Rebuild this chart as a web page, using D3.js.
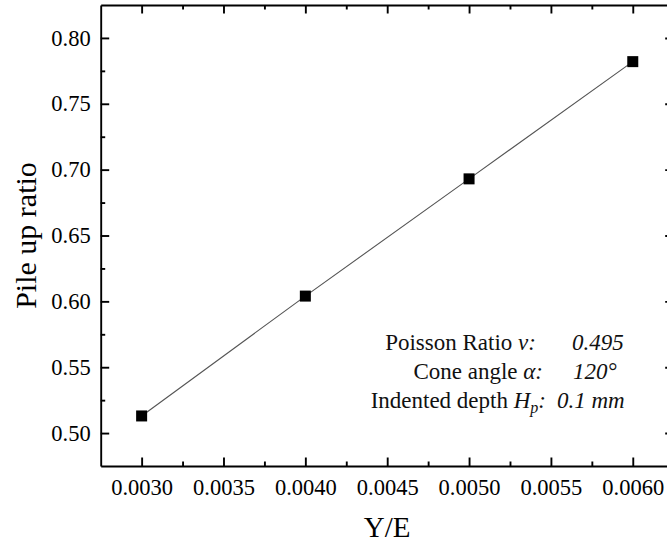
<!DOCTYPE html>
<html>
<head>
<meta charset="utf-8">
<script src="https://cdn.jsdelivr.net/npm/d3@7"></script>
<style>
  body { margin: 0; background: #fff; }
  svg { display: block; overflow: hidden; }
  svg text { font-family: "Liberation Serif", serif !important; }
  .axis path, .axis line { stroke: #000; stroke-width: 1.9px; }
  .minor path { display: none; }
</style>
</head>
<body>
<div class="graphContainer"></div>
<script>
// Data
var yOverE = [0.0030, 0.0040, 0.0050, 0.0060];
var pileUpRatio = [0.513, 0.604, 0.693, 0.782];

// Tick values
var xTicks = [0.0030, 0.0035, 0.0040, 0.0045, 0.0050, 0.0055, 0.0060];
var xMinorTicks = [0.00325, 0.00375, 0.00425, 0.00475, 0.00525, 0.00575];
var yTicks = [0.50, 0.55, 0.60, 0.65, 0.70, 0.75, 0.80];
var yMinorTicks = [0.525, 0.575, 0.625, 0.675, 0.725, 0.775];

var xDomain = [0.00275, 0.00625];
var yDomain = [0.475, 0.825];

(function(){

    var serif = "Liberation Serif";

    // Set the dimensions of the canvas / graph
    var margin = {top: 5, right: 0, bottom: 82, left: 100.7},
        totalWidth = 667,
        totalHeight = 548,
        width = 573,
        height = totalHeight - margin.top - margin.bottom;

    // Set the ranges
    var x = d3.scaleLinear().domain(xDomain).range([0, width]);
    var y = d3.scaleLinear().domain(yDomain).range([height, 0]);

    var svg = d3.select(".graphContainer")
        .append("svg")
            .attr("width", totalWidth)
            .attr("height", totalHeight)
        .append("g")
            .attr("transform", "translate(" + margin.left + "," + margin.top + ")");

    var fmtX = d3.format(".4f"),
        fmtY = d3.format(".2f");

    function addAxis(axis, tx, ty, minor) {
        svg.append("g")
            .attr("class", minor ? "axis minor" : "axis")
            .attr("transform", "translate(" + tx + "," + ty + ")")
            .call(axis)
            .attr("font-family", serif)
            .attr("font-size", 22.5)
            .selectAll("text").attr("fill", "#000");
    }

    // Minor ticks
    addAxis(d3.axisBottom(x).tickValues(xMinorTicks).tickSize(-4.5).tickFormat(""), 0, height, true);
    addAxis(d3.axisTop(x).tickValues(xMinorTicks).tickSize(-4.5).tickFormat(""), 0, 0, true);
    addAxis(d3.axisLeft(y).tickValues(yMinorTicks).tickSize(-4.5).tickFormat(""), 0, 0, true);
    addAxis(d3.axisRight(y).tickValues(yMinorTicks).tickSize(-4.5).tickFormat(""), width, 0, true);

    // Major axes
    addAxis(d3.axisBottom(x).tickValues(xTicks).tickSizeInner(-8.5).tickSizeOuter(0)
        .tickPadding(13).tickFormat(fmtX), 0, height);
    addAxis(d3.axisTop(x).tickValues(xTicks).tickSizeInner(-8.5).tickSizeOuter(0).tickFormat(""), 0, 0);
    addAxis(d3.axisLeft(y).tickValues(yTicks).tickSizeInner(-8.5).tickSizeOuter(0)
        .tickPadding(10).tickFormat(fmtY), 0, 0);
    addAxis(d3.axisRight(y).tickValues(yTicks).tickSizeInner(-8.5).tickSizeOuter(0).tickFormat(""), width, 0);

    // Line
    var data = yOverE.map(function(d, i) { return {x: d, y: pileUpRatio[i]}; });
    var valueline = d3.line()
        .x(function(d) { return x(d.x); })
        .y(function(d) { return y(d.y); });

    svg.append("path")
        .attr("d", valueline(data))
        .attr("fill", "none")
        .attr("stroke", "#555")
        .attr("stroke-width", 1.1);

    // Square markers
    svg.selectAll(".pt").data(data).enter().append("rect")
        .attr("class", "pt")
        .attr("x", function(d) { return x(d.x) - 5.5; })
        .attr("y", function(d) { return y(d.y) - 5.5; })
        .attr("width", 11)
        .attr("height", 11)
        .attr("fill", "#000");

    // Axis titles
    var root = d3.select("svg");
    root.append("text")
        .attr("x", margin.left + width / 2)
        .attr("y", 537)
        .attr("text-anchor", "middle")
        .attr("font-size", 29)
        .text("Y/E");

    root.append("text")
        .attr("transform", "translate(36," + (margin.top + height / 2) + ") rotate(-90)")
        .attr("text-anchor", "middle")
        .attr("font-size", 30)
        .text("Pile up ratio");

    // Annotation
    var notes = root.append("g")
        .attr("font-size", 23)
        .attr("fill", "#111");

    function label(xEnd, yBase, parts) {
        var t = notes.append("text")
            .attr("x", xEnd).attr("y", yBase).attr("text-anchor", "end");
        parts.forEach(function(p) {
            var s = t.append("tspan").text(p.t);
            if (p.i) s.attr("font-style", "italic");
            if (p.sub) s.attr("dy", 5).attr("font-size", 16);
            if (p.back) s.attr("dy", -5);
        });
    }
    function value(xStart, yBase, txt) {
        notes.append("text")
            .attr("x", xStart).attr("y", yBase)
            .attr("font-style", "italic")
            .text(txt);
    }

    label(536, 350, [{t: "Poisson Ratio "}, {t: "\u03BD", i: true}, {t: ":", i: true}]);
    value(572, 350, "0.495");
    label(543, 379, [{t: "Cone angle "}, {t: "\u03B1", i: true}, {t: ":", i: true}]);
    value(573, 379, "120\u00B0");
    label(546, 408, [{t: "Indented depth "}, {t: "H", i: true}, {t: "p", i: true, sub: true}, {t: ":", i: true, back: true}]);
    value(557, 408, "0.1 mm");

})();
</script>
</body>
</html>
